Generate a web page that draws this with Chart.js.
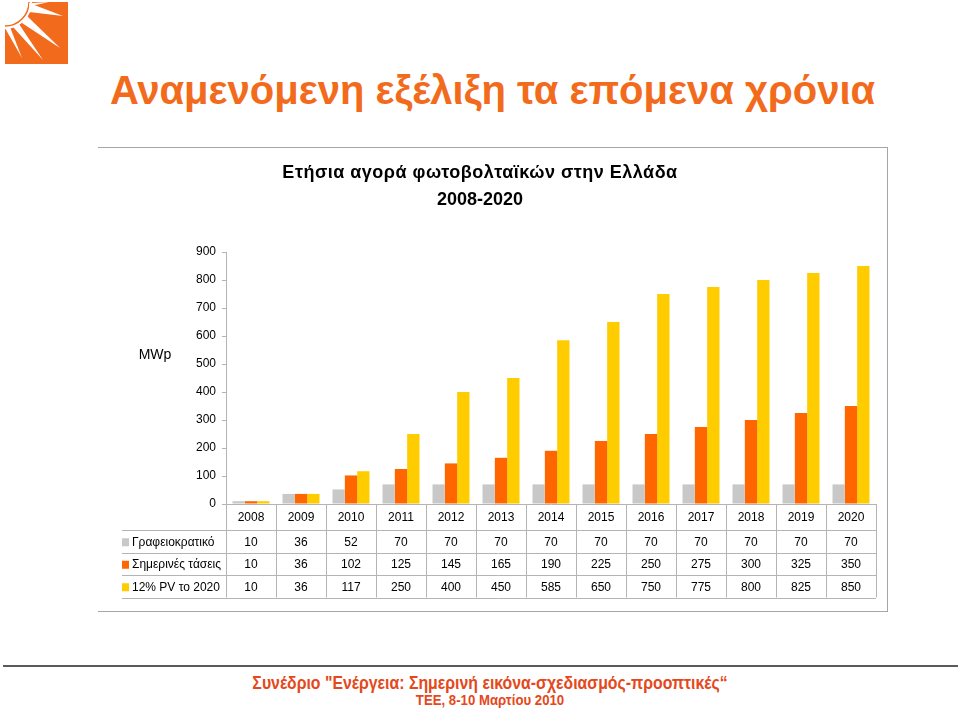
<!DOCTYPE html>
<html>
<head>
<meta charset="utf-8">
<script src="https://cdn.jsdelivr.net/npm/chart.js@4"></script>
<style>
  html, body { margin: 0; padding: 0; background: #fff; }
  body { width: 960px; height: 708px; position: relative; overflow: hidden; font-family: "Liberation Sans", Arial, sans-serif; }
  #logo { position: absolute; left: 5px; top: 2px; }
  #mainTitle {
    position: absolute; left: 0; width: 985px; top: 68px; text-align: center;
    font-family: "Liberation Sans", Arial, sans-serif; font-weight: bold; font-size: 40px; color: #f26b1d;
  }
  #box {
    position: absolute; left: 98px; top: 147px; width: 789px; height: 463px;
    border-top: 1px solid #a6a6a6; border-right: 1px solid #a6a6a6; border-bottom: 1px solid #a6a6a6;
  }
  #chart { position: absolute; left: 122px; top: 148px; }
  #rule { position: absolute; left: 3px; width: 955px; top: 665px; height: 2px; background: #5a5a5a; }
  .foot {
    position: absolute; left: 0; width: 980px; text-align: center; color: #e4481b; font-weight: bold;
    font-family: "Liberation Sans", Arial, sans-serif; transform: scaleX(0.88); transform-origin: 490px 0;
    white-space: nowrap;
  }
  #foot1 { top: 673px; font-size: 18px; }
  #foot2 { top: 691px; font-size: 15px; }
</style>
</head>
<body>
<svg id="logo" width="63" height="62" viewBox="0 0 63 62">
  <rect x="0" y="0" width="63" height="62" fill="#f26b1d"/>
  <circle cx="0" cy="0" r="27" fill="#fff"/>
  <circle cx="0" cy="0" r="24" fill="none" stroke="#f26b1d" stroke-width="1.5"/>
  <polygon points="24,1 58,14 24,10" fill="#fff"/>
  <polygon points="22,14 55,46 17,21" fill="#fff"/>
  <polygon points="14,22 38,58 8,25" fill="#fff"/>
  <polygon points="5,25 17,56 0,26" fill="#fff"/>
  <polygon points="26,4 44,0 27,1" fill="#fff"/>
</svg>
<div id="mainTitle">Αναμενόμενη εξέλιξη τα επόμενα χρόνια</div>
<div id="box"></div>
<canvas id="chart" width="766" height="462"></canvas>
<div id="rule"></div>
<div class="foot" id="foot1">Συνέδριο "Ενέργεια: Σημερινή εικόνα-σχεδιασμός-προοπτικές“</div>
<div class="foot" id="foot2">ΤΕΕ, 8-10 Μαρτίου 2010</div>

<script>
// ---------------------------
// Data
// ---------------------------
const years = ['2008', '2009', '2010', '2011', '2012', '2013', '2014', '2015', '2016', '2017', '2018', '2019', '2020'];
const bureaucratic = [10, 36, 52, 70, 70, 70, 70, 70, 70, 70, 70, 70, 70];
const currentTrend = [10, 36, 102, 125, 145, 165, 190, 225, 250, 275, 300, 325, 350];
const pv12 = [10, 36, 117, 250, 400, 450, 585, 650, 750, 775, 800, 825, 850];
const seriesNames = ['Γραφειοκρατικό', 'Σημερινές τάσεις', '12% PV το 2020'];
const seriesColors = ['#c8c8c8', '#ff6600', '#ffcc00'];
const yMax = 900;
const yStep = 100;
const chartTitle = ['Ετήσια αγορά φωτοβολταϊκών στην Ελλάδα', '2008-2020'];
const yLabel = 'MWp';

const FONT = '"Liberation Sans", Arial, sans-serif';
const LINE = '#b4b4b4';

// ---------------------------
// Title, unit label and data table
// ---------------------------
const tablePlugin = {
    id: 'dataTable',
    afterDraw(chart) {
        const ctx = chart.ctx;
        const x = chart.scales.x;
        const top = x.bottom;           // bottom of year row
        const rowH = 22.5;
        const rows = [bureaucratic, currentTrend, pv12];
        const leftEdge = -5;

        ctx.save();

        // chart title
        ctx.fillStyle = '#000';
        ctx.textAlign = 'center';
        ctx.textBaseline = 'middle';
        ctx.font = 'bold 18px ' + FONT;
        ctx.letterSpacing = '0.5px';
        ctx.fillText(chartTitle[0], 358, 25);
        ctx.letterSpacing = '0px';
        ctx.fillText(chartTitle[1], 358, 52);

        // unit label
        ctx.font = '14px ' + FONT;
        ctx.fillText(yLabel, 33, 207);

        // table grid
        ctx.strokeStyle = LINE;
        ctx.lineWidth = 1;
        ctx.beginPath();
        for (let r = 0; r <= rows.length; r++) {
            const yy = Math.round(top + r * rowH) + 0.5;
            ctx.moveTo(leftEdge, yy);
            ctx.lineTo(x.right, yy);
        }
        const lastY = top + rows.length * rowH;
        for (let i = 0; i <= years.length; i++) {
            const xx = Math.round(x.left + (x.right - x.left) * i / years.length) + 0.5;
            ctx.moveTo(xx, x.top);
            ctx.lineTo(xx, lastY);
        }
        ctx.stroke();

        // values + legend keys
        ctx.font = '12px ' + FONT;
        rows.forEach((vals, r) => {
            const cy = top + r * rowH + rowH / 2 + 1;
            ctx.fillStyle = seriesColors[r];
            ctx.fillRect(-1, cy - 4, 8, 8);
            ctx.fillStyle = '#000';
            ctx.textAlign = 'left';
            ctx.fillText(seriesNames[r], 10, cy);
            ctx.textAlign = 'center';
            vals.forEach((v, i) => {
                ctx.fillText(String(v), x.getPixelForValue(i), cy);
            });
        });

        ctx.restore();
    }
};

// ---------------------------
// Chart
// ---------------------------
document.addEventListener('DOMContentLoaded', () => {
    const canvas = document.getElementById('chart');
    new Chart(canvas.getContext('2d'), {
        type: 'bar',
        data: {
            labels: years,
            datasets: [
                { label: seriesNames[0], data: bureaucratic, backgroundColor: seriesColors[0] },
                { label: seriesNames[1], data: currentTrend, backgroundColor: seriesColors[1] },
                { label: seriesNames[2], data: pv12, backgroundColor: seriesColors[2] },
            ]
        },
        options: {
            responsive: false,
            animation: false,
            devicePixelRatio: 1,
            layout: { padding: { top: 104, left: 0, right: 12, bottom: 80 } },
            datasets: { bar: { categoryPercentage: 0.74, barPercentage: 1.0, borderWidth: 0 } },
            plugins: { legend: { display: false }, tooltip: { enabled: false }, title: { display: false } },
            scales: {
                x: {
                    grid: { display: false, drawTicks: false },
                    border: { color: LINE },
                    ticks: { color: '#000', font: { family: FONT, size: 12 }, padding: 6, maxRotation: 0 },
                    afterFit: (scale) => { scale.height = 26; }
                },
                y: {
                    min: 0,
                    max: yMax,
                    grid: { drawOnChartArea: false, tickLength: 4, color: LINE },
                    border: { color: LINE },
                    ticks: { stepSize: yStep, color: '#000', font: { family: FONT, size: 12 }, padding: 6 },
                    afterFit: (scale) => { scale.width = 104; }
                }
            }
        },
        plugins: [tablePlugin]
    });
});
</script>
</body>
</html>
